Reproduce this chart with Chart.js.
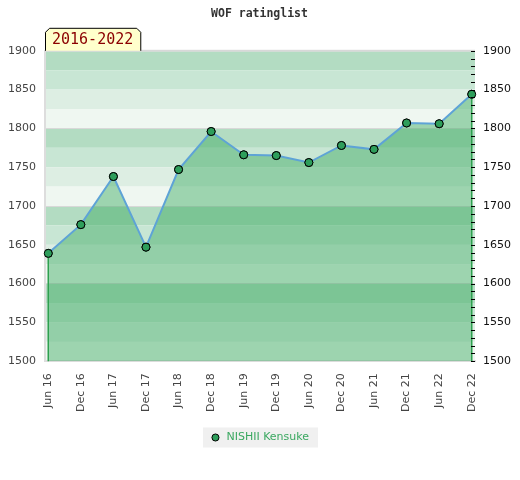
<!DOCTYPE html>
<html>
<head>
<meta charset="utf-8">
<script src="https://cdn.jsdelivr.net/npm/chart.js@4"></script>
<style>
html,body{margin:0;padding:0;background:#fff;}
#wrap{width:520px;height:480px;position:relative;}
</style>
</head>
<body>
<div id="wrap"><canvas id="c" width="520" height="480"></canvas></div>
<script>
const categories = ['Jun 16','Dec 16','Jun 17','Dec 17','Jun 18','Dec 18','Jun 19','Dec 19','Jun 20','Dec 20','Jun 21','Dec 21','Jun 22','Dec 22'];
const ratings = [1639, 1676, 1738, 1647, 1747, 1796, 1766, 1765, 1756, 1778, 1773, 1807, 1806, 1844];
const seriesName = 'NISHII Kensuke';
const titleText = 'WOF ratinglist';
const periodText = '2016-2022';
const yTicks = [1500, 1550, 1600, 1650, 1700, 1750, 1800, 1850, 1900];

const bandColors = ['#b3dcc2', '#c8e6d4', '#ddeee3', '#eff7f1'];

const bgPlugin = {
  id: 'bg',
  beforeDraw(chart) {
    const {ctx, chartArea: a} = chart;
    const y = chart.scales.y;
    ctx.save();
    for (let v = 1900; v > 1500; v -= 25) {
      const idx = ((1900 - v) / 25) % 4;
      const t = y.getPixelForValue(v), b = y.getPixelForValue(v - 25);
      ctx.fillStyle = bandColors[idx];
      ctx.fillRect(a.left, t, a.right - a.left, b - t);
    }
    ctx.strokeStyle = '#dddddd';
    ctx.lineWidth = 2;
    ctx.beginPath();
    ctx.moveTo(a.left, a.top);
    ctx.lineTo(a.right, a.top);
    ctx.stroke();
    const lg = chart.legend;
    if (lg && lg.legendHitBoxes && lg.legendHitBoxes.length) {
      const h = lg.legendHitBoxes[0];
      const cy = h.top + h.height / 2;
      ctx.fillStyle = '#f0f0f0';
      ctx.fillRect(h.left - 7, cy - 10, h.width + 16, 20);
    }
    ctx.restore();
  },
  afterDraw(chart) {
    const {ctx, chartArea: a} = chart;
    const y = chart.scales.y;
    ctx.save();
    ctx.strokeStyle = '#000';
    ctx.lineWidth = 1;
    ctx.beginPath();
    for (let v = 1500; v <= 1900; v += 10) {
      const p = Math.round(y.getPixelForValue(v)) + 0.5;
      ctx.moveTo(a.right - 4, p);
      ctx.lineTo(a.right, p);
    }
    ctx.stroke();
    ctx.font = '15px "DejaVu Sans Mono"';
    const tw = ctx.measureText(periodText).width;
    const bx = a.left, by = a.top - 23, bw = tw + 15, bh = 23, c = 4;
    ctx.fillStyle = '#ffffcc';
    ctx.strokeStyle = '#000';
    ctx.lineWidth = 1;
    ctx.beginPath();
    ctx.moveTo(bx + 0.5, by + bh);
    ctx.lineTo(bx + 0.5, by + c + 0.5);
    ctx.lineTo(bx + c + 0.5, by + 0.5);
    ctx.lineTo(bx + bw - c - 0.5, by + 0.5);
    ctx.lineTo(bx + bw - 0.5, by + c + 0.5);
    ctx.lineTo(bx + bw - 0.5, by + bh);
    ctx.fill();
    ctx.stroke();
    ctx.fillStyle = '#8b0000';
    ctx.textBaseline = 'middle';
    ctx.textAlign = 'left';
    ctx.fillText(periodText, bx + 7, by + bh / 2 + 1);
    ctx.restore();
  },
  afterDatasetsDraw(chart) {
    const meta = chart.getDatasetMeta(0);
    const pts = meta.data;
    const {ctx, chartArea: a} = chart;
    ctx.save();
    ctx.strokeStyle = '#2ea04f';
    ctx.lineWidth = 1.5;
    ctx.beginPath();
    [pts[0], pts[pts.length - 1]].forEach(p => {
      ctx.moveTo(p.x, p.y);
      ctx.lineTo(p.x, a.bottom);
    });
    ctx.stroke();
    ctx.restore();
    pts.forEach(p => p.draw(ctx, a));
  }
};

new Chart(document.getElementById('c'), {
  type: 'line',
  data: {
    datasets: [{
      label: seriesName,
      data: ratings.map((v, i) => ({x: i, y: v})),
      borderColor: '#5ea3d6',
      borderWidth: 2,
      backgroundColor: 'rgba(57,169,96,0.45)',
      fill: 'start',
      tension: 0,
      pointRadius: 4,
      pointBackgroundColor: '#2e9e5b',
      pointBorderColor: '#000',
      pointBorderWidth: 1,
      yAxisID: 'y'
    }]
  },
  options: {
    responsive: false,
    animation: false,
    devicePixelRatio: 1,
    layout: {padding: {left: 8, right: 9, top: 7, bottom: 27}},
    plugins: {
      title: {
        display: true,
        text: titleText,
        color: '#333',
        font: {family: '"DejaVu Sans Mono"', size: 11.5, weight: 'bold'},
        padding: {top: 0, bottom: 30}
      },
      legend: {
        position: 'bottom',
        labels: {
          usePointStyle: true,
          boxWidth: 11,
          boxHeight: 5,
          padding: 8,
          color: '#3aa860',
          font: {family: '"DejaVu Sans"', size: 11},
          generateLabels: (chart) => [{
            text: seriesName,
            fillStyle: '#2e9e5b',
            strokeStyle: '#000',
            lineWidth: 1,
            pointStyle: 'circle',
            datasetIndex: 0,
            fontColor: '#3aa860'
          }]
        }
      },
      tooltip: {enabled: false}
    },
    scales: {
      x: {
        type: 'linear',
        min: -0.1,
        max: categories.length - 1 + 0.1,
        afterBuildTicks: (s) => { s.ticks = categories.map((_, i) => ({value: i})); },
        ticks: {
          callback: (v) => categories[v],
          minRotation: 90,
          maxRotation: 90,
          padding: 12,
          color: '#444',
          font: {family: '"DejaVu Sans"', size: 11},
          autoSkip: false
        },
        grid: {display: false, drawTicks: false},
        border: {color: '#dddddd', width: 2}
      },
      y: {
        position: 'left',
        min: 1500,
        max: 1900,
        afterBuildTicks: (s) => { s.ticks = yTicks.map(v => ({value: v})); },
        afterFit: (s) => { s.width = 37; },
        ticks: {
          padding: 9,
          color: '#444',
          font: {family: '"DejaVu Sans"', size: 11},
          callback: (v) => String(v)
        },
        grid: {
          drawTicks: false,
          color: (c) => (c.tick && c.tick.value % 100 === 0) ? '#d8d8d8' : 'rgba(0,0,0,0)',
          lineWidth: 1
        },
        border: {color: '#dddddd', width: 2}
      },
      y1: {
        position: 'right',
        min: 1500,
        max: 1900,
        afterBuildTicks: (s) => { s.ticks = yTicks.map(v => ({value: v})); },
        afterFit: (s) => { s.width = 36; },
        ticks: {
          padding: 8,
          color: '#111',
          font: {family: '"DejaVu Sans"', size: 11},
          callback: (v) => String(v)
        },
        grid: {display: false, drawTicks: false},
        border: {display: false}
      }
    }
  },
  plugins: [bgPlugin]
});
</script>
</body>
</html>
